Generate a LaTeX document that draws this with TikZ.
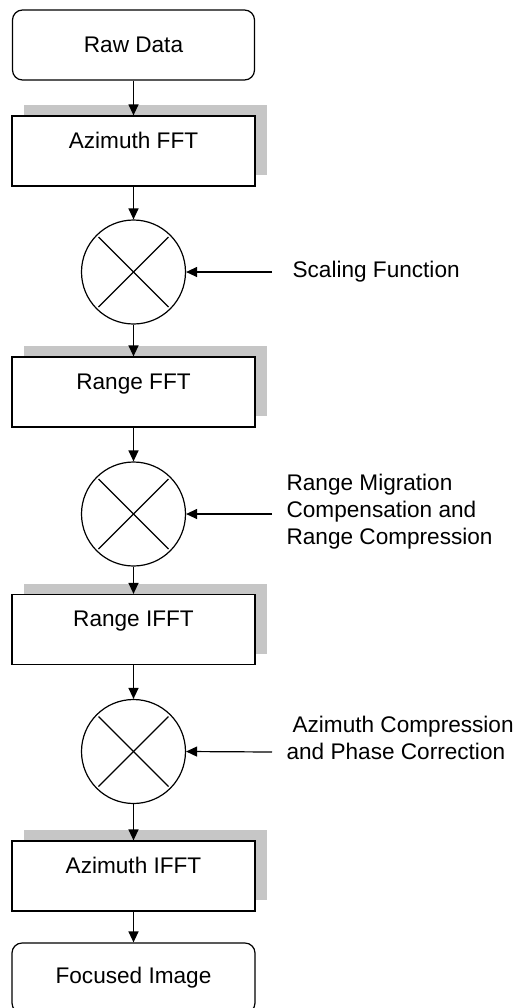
\documentclass[tikz,border=0pt]{standalone}
\usepackage{fontspec}
\setmainfont{Liberation Sans}
\usetikzlibrary{shadows,arrows.meta}
\tikzset{
  terminal/.style={draw, rounded corners=5pt, minimum width=121pt, minimum height=35pt, inner sep=0pt},
  stage/.style={draw, fill=white, minimum width=121.5pt, inner sep=0pt, text height=16pt, text depth=19pt,
    drop shadow={shadow xshift=6pt, shadow yshift=5.5pt, fill=gray!45, opacity=1}},
  mixer/.style={draw, circle, minimum size=52pt, inner sep=0pt,
    path picture={
      \draw ([shift={(-17.5pt,17.5pt)}]path picture bounding box.center) -- ([shift={(17.5pt,-17.5pt)}]path picture bounding box.center);
      \draw ([shift={(-17.5pt,-17.5pt)}]path picture bounding box.center) -- ([shift={(17.5pt,17.5pt)}]path picture bounding box.center);
    }},
  flow/.style={-{Triangle[length=5.5pt,width=5pt]}},
}
\begin{document}
\begin{tikzpicture}[x=0.5pt, y=-0.5pt, line width=0.6pt, font=\fontsize{11.3pt}{13.5pt}\selectfont]
      \useasboundingbox (0,0) rectangle (519,1008);
      \node[terminal] (raw) at (133.5,45) {Raw Data};
      \node[stage] (azfft) at (133.5,151) {Azimuth FFT};
      \node[mixer] (mix1) at (133.5,272) {};
      \node[stage] (rfft) at (133.5,392) {Range FFT};
      \node[mixer] (mix2) at (133.5,514) {};
      \node[stage] (rifft) at (133.5,629.5) {Range IFFT};
      \node[mixer] (mix3) at (133.5,751.5) {};
      \node[stage] (azifft) at (133.5,876) {Azimuth IFFT};
      \node[terminal, minimum width=121.5pt] (focus) at (133.5,978) {Focused Image};
      \coordinate (in1) at (272,272);
      \coordinate (in2) at (272,514);
      \coordinate (in3) at (272,752);
      \node[anchor=west, inner sep=0pt] (scale) at (292,272) {Scaling Function};
      \node[anchor=west, align=left, inner sep=0pt] (rmc) at (286,512) {Range Migration\\Compensation and\\Range Compression};
      \node[anchor=west, align=left, inner sep=0pt] (azc) at (286,737.5) {\hspace*{3pt}Azimuth Compression\\and Phase Correction};
      \begin{scope}[flow]
        \draw (raw) to (azfft);
        \draw (azfft) to (mix1);
        \draw (mix1) to (rfft);
        \draw (rfft) to (mix2);
        \draw (mix2) to (rifft);
        \draw (rifft) to (mix3);
        \draw (mix3) to (azifft);
        \draw (azifft) to (focus);
        \draw (in1) to (mix1.east);
        \draw (in2) to (mix2.east);
        \draw (in3) to (mix3.east);
      \end{scope}
    \end{tikzpicture}
\end{document}
